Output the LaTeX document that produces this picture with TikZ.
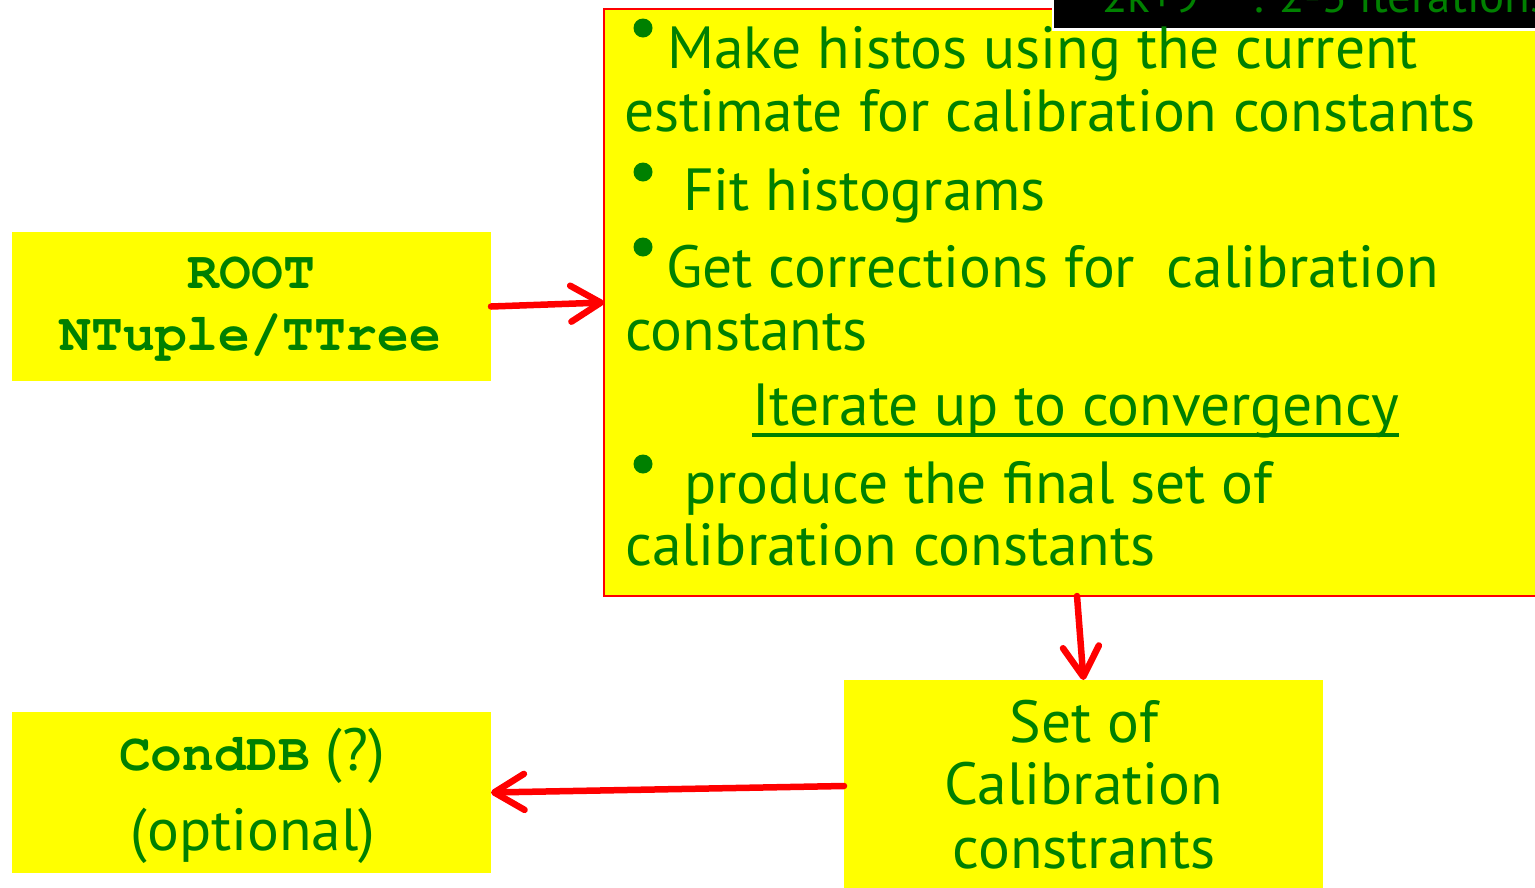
\documentclass[tikz,border=0pt]{standalone}
\usepackage{fontspec}
\newfontfamily\comic{PT Sans}
\newfontfamily\cour{texgyrecursor}[Extension=.otf, UprightFont=*-regular, BoldFont=*-bold]
\usetikzlibrary{arrows.meta}
\definecolor{dgreen}{HTML}{008000}
\definecolor{ylw}{HTML}{FFFF00}
\definecolor{rd}{HTML}{FF0000}
\begin{document}
\begin{tikzpicture}[x=1pt,y=-1pt,
  ybox/.style={rectangle, fill=ylw, inner sep=0pt, outer sep=0pt},
  ct/.style={inner sep=0pt, anchor=base west, text=dgreen, font=\comic\fontsize{59.5}{62}\selectfont},
  cc/.style={ct, anchor=base},
  mono/.style={inner sep=0pt, anchor=base, text=dgreen, font=\cour\bfseries\fontsize{53}{62}\selectfont},
  bul/.style={circle, fill=dgreen, minimum size=19pt, inner sep=0pt},
  conn/.style={draw=rd, line width=6.5pt, line cap=round, -{Straight Barb[length=30pt,width=36pt,round]}},
]
\useasboundingbox (0,0) rectangle (1535,887);
\clip (0,0) rectangle (1535,887);

% ROOT box
\node[ybox, minimum width=479pt, minimum height=149pt] (root) at (251.5,306.5) {};
\node[mono] (rootT1) at (251.5,288) {ROOT};
\node[mono] (rootT2) at (250.5,350) {NTuple/TTree};

% main box
\node[ybox, draw=rd, line width=2pt, minimum width=941pt, minimum height=587pt] (main) at (1074.5,302.5) {};

% black note box (cut off at the top edge)
\node[rectangle, fill=black, draw=white, line width=2.5pt, minimum width=492pt, minimum height=42pt, inner sep=0pt] (note) at (1299,8.5) {};
\node[ct, font=\comic\fontsize{47}{50}\selectfont] (noteA) at (1102,12) {2k+9};
\node[ct, font=\comic\fontsize{47}{50}\selectfont] (noteB) at (1252,12) {: 2-3 iterations a};

% main text
\node[bul] (b1) at (643,28) {};
\node[ct] (l1) at (667,68) {Make histos using the current};
\node[ct] (l2) at (624,131) {estimate for calibration constants};
\node[bul] (b2) at (643,172) {};
\node[ct] (l3) at (683,210) {Fit histograms};
\node[bul] (b3) at (643,247) {};
\node[ct] (l4) at (666,287) {Get corrections for\ \ calibration};
\node[ct] (l5) at (625,350) {constants};
\node[ct] (l6) at (752,425) {Iterate up to convergency};
\draw[dgreen, line width=4pt] ([yshift=-10pt]l6.base west) -- ([yshift=-10pt]l6.base east);
\node[bul] (b4) at (643,464) {};
\node[ct] (l7) at (684,503) {produce the final set of};
\node[ct] (l8) at (625,565) {calibration constants};

% Set box
\node[ybox, minimum width=479pt, minimum height=212pt] (set) at (1083.5,786) {};
\node[cc] (s1) at (1084,742) {Set of};
\node[cc] (s2) at (1084,804) {Calibration};
\node[cc] (s3) at (1084,868) {constrants};

% CondDB box
\node[ybox, minimum width=479pt, minimum height=161pt] (cond) at (251.5,792.5) {};
\node[mono] (c1) at (252,770) {CondDB{\comic\mdseries\fontsize{59.5}{62}\selectfont\ (?)}};
\node[cc] (c2) at (253,850) {(optional)};

% connectors
\draw[conn] (root.east) -- (main.west);
\draw[conn] ([xshift=2.5pt]main.south) -- (set.north);
\draw[conn] (set.west) -- (cond.east);
\end{tikzpicture}
\end{document}
